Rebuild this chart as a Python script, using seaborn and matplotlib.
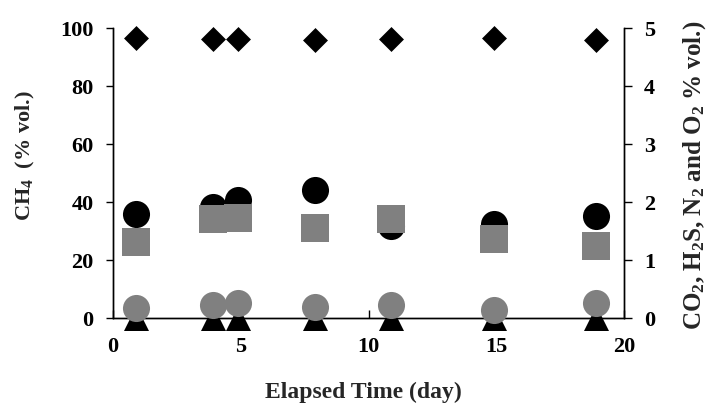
import matplotlib
matplotlib.use("Agg")
import matplotlib.pyplot as plt
import seaborn as sns
import pandas as pd

# Sampling days
days = [0.9, 3.9, 4.9, 7.9, 10.9, 14.9, 18.9]
# CH4 (% vol., left axis)
ch4 = [96.6, 96.3, 96.3, 95.7, 96.1, 96.7, 95.9]
# Minor components (% vol., right axis)
co2 = [1.79, 1.91, 2.03, 2.20, 1.58, 1.62, 1.76]
n2 = [1.31, 1.70, 1.73, 1.56, 1.70, 1.37, 1.25]
o2 = [0.18, 0.23, 0.26, 0.19, 0.23, 0.13, 0.26]
h2s = [0.0, 0.0, 0.0, 0.0, 0.0, 0.0, 0.0]

x_ticks = [0, 5, 10, 15, 20]
left_ticks = [0, 20, 40, 60, 80, 100]
right_ticks = [0, 1, 2, 3, 4, 5]

sns.set_style("ticks")
plt.rcParams["font.family"] = ["Liberation Serif", "DejaVu Serif"]
plt.rcParams["font.weight"] = "bold"
plt.rcParams["mathtext.fontset"] = "custom"
plt.rcParams["mathtext.rm"] = "Liberation Serif:bold"
plt.rcParams["mathtext.it"] = "Liberation Serif:bold"
plt.rcParams["mathtext.default"] = "rm"

df = pd.DataFrame({"day": days, "ch4": ch4, "co2": co2, "n2": n2,
                   "o2": o2, "h2s": h2s})

fig = plt.figure(figsize=(7.10, 4.03), dpi=100)
ax = fig.add_axes([113 / 710, 1 - 318 / 403, 511 / 710, 290 / 403])
ax2 = ax.twinx()

gray = "#808080"
sns.scatterplot(data=df, x="day", y="ch4", ax=ax, marker="D", s=12.7 ** 2,
                color="black", linewidth=0, clip_on=False, zorder=3)

sns.scatterplot(data=df, x="day", y="h2s", ax=ax2, marker="^", s=18 ** 2,
                color="black", linewidth=0, clip_on=False, zorder=2)
sns.scatterplot(data=df, x="day", y="co2", ax=ax2, marker="o", s=19.5 ** 2,
                color="black", linewidth=0, clip_on=False, zorder=3)
sns.scatterplot(data=df, x="day", y="n2", ax=ax2, marker="s", s=19.5 ** 2,
                color=gray, linewidth=0, clip_on=False, zorder=4)
sns.scatterplot(data=df, x="day", y="o2", ax=ax2, marker="o", s=19.5 ** 2,
                color=gray, linewidth=0, clip_on=False, zorder=5)

ax.set_xlim(0, 20)
ax.set_ylim(0, 100)
ax2.set_ylim(0, 5)
ax.set_xticks(x_ticks)
ax.set_yticks(left_ticks)
ax2.set_yticks(right_ticks)

for a in (ax, ax2):
    a.spines["top"].set_visible(False)
    for sp in a.spines.values():
        sp.set_linewidth(1.0)
        sp.set_color("black")

ax.tick_params(axis="x", direction="in", length=6, width=1, pad=14,
               labelsize=16, colors="black")
ax.tick_params(axis="y", direction="out", length=5, width=1, pad=9,
               labelsize=16, colors="black")
ax2.tick_params(axis="y", direction="out", length=5.5, width=1, pad=9,
                labelsize=16, colors="black")
for lab in ax.get_xticklabels() + ax.get_yticklabels() + ax2.get_yticklabels():
    lab.set_fontweight("bold")

ax.set_xlabel("Elapsed Time (day)", fontsize=17, fontweight="bold",
              va="center", ha="center")
ax.xaxis.set_label_coords(0.49, -0.255)
ax.set_ylabel("CH$_4$  (% vol.)", fontsize=16, fontweight="bold",
              va="center", ha="center")
ax.yaxis.set_label_coords(-0.171, 0.559)
ax2.set_ylabel("CO$_2$, H$_2$S, N$_2$ and O$_2$ % vol.)", fontsize=18,
               fontweight="bold", va="center", ha="center")
ax2.yaxis.set_label_coords(1.138, 0.493)

fig.savefig("out.png", dpi=100)
